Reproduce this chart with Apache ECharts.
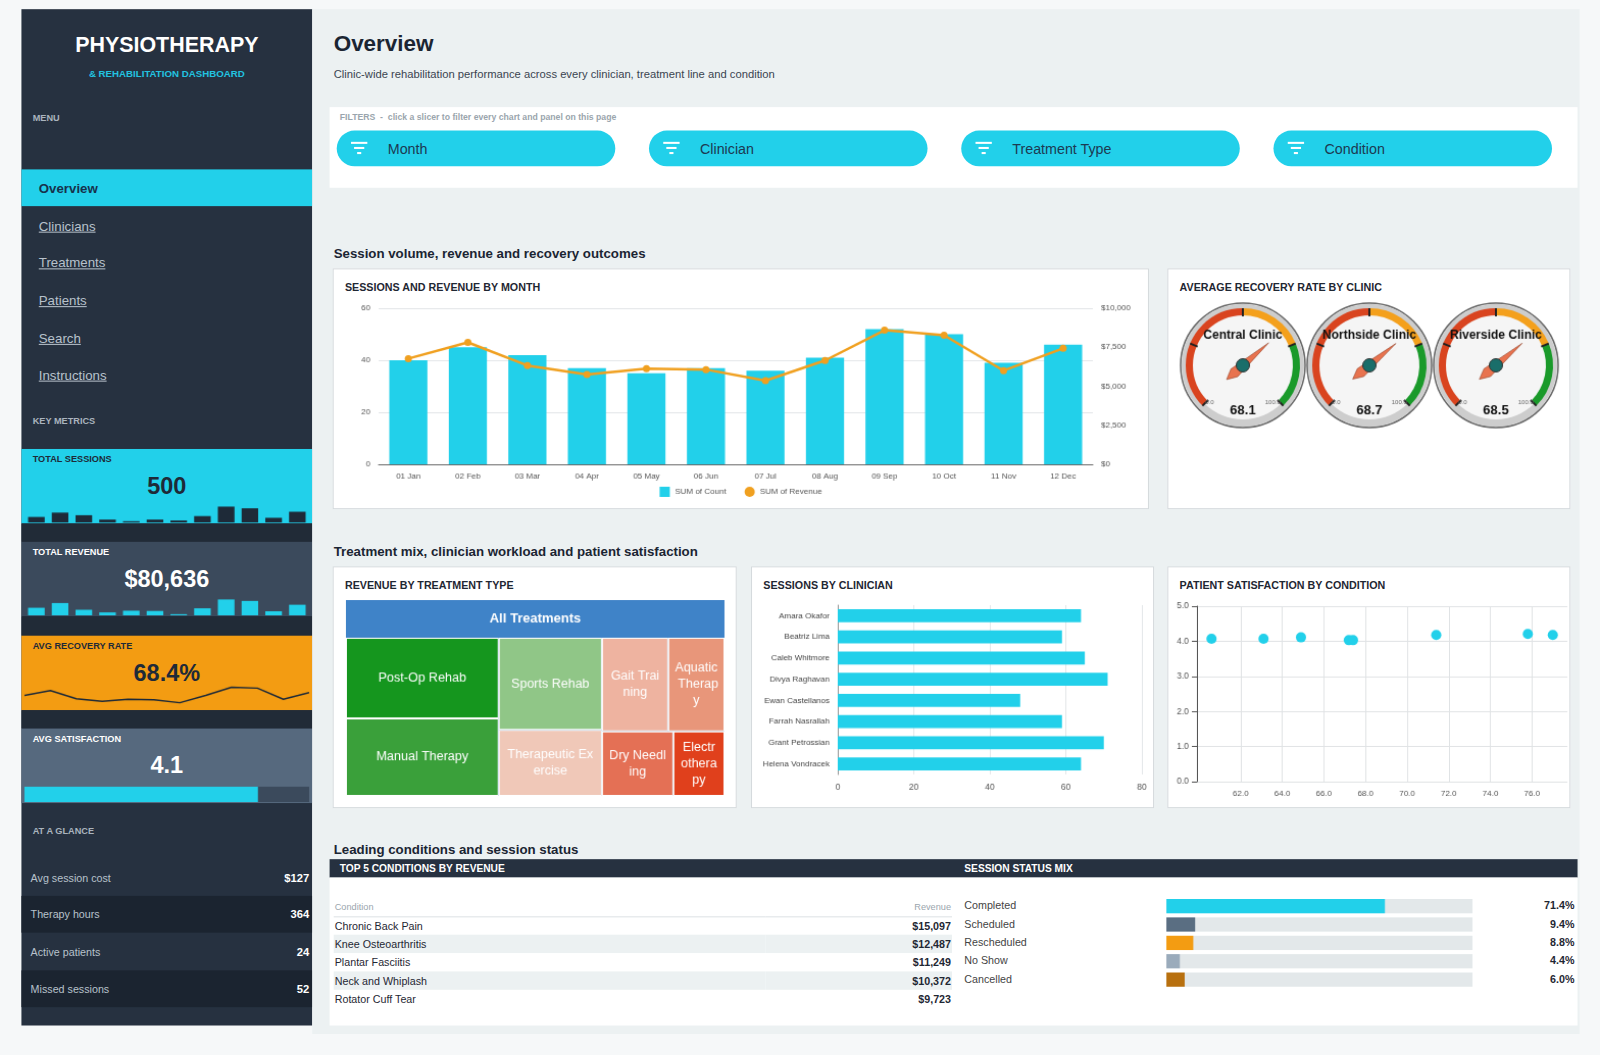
<!DOCTYPE html>
<html lang="en">
<head>
<meta charset="UTF-8">
<title>Physiotherapy Dashboard</title>
<script src="https://cdn.jsdelivr.net/npm/echarts@6/dist/echarts.min.js"></script>
<style>
    * { box-sizing: border-box; margin: 0; padding: 0; }
    body { background: #f6f8f9; font-family: 'Liberation Sans', Arial, sans-serif; overflow: hidden; }
    #page { position: relative; width: 1568px; height: 1034px; transform: scale(1.0204); transform-origin: 0 0; }
    .abs { position: absolute; }
    #side { left: 21px; top: 9px; width: 285px; height: 996px; background: #263140; }
    #main { left: 306px; top: 9px; width: 1242px; height: 1016px; background: #ecf1f2; }
    .cap { font-size: 9px; font-weight: bold; color: #aab4be; }
    .nav { left: 17px; font-size: 13px; color: #b8c2cc; text-decoration: underline; }
    .kpi { left: 0; width: 285px; height: 73px; }
    .kpi .lbl { position: absolute; left: 11px; top: 5px; font-size: 9px; font-weight: bold; }
    .kpi .val { position: absolute; left: 0; width: 285px; top: 23px; text-align: center; font-size: 23px; font-weight: bold; }
    .kpi .spark { position: absolute; left: 3px; width: 279px; }
    .glance { left: 0; width: 285px; height: 36px; font-size: 10.5px; color: #b8c2cc; }
    .glance span { position: absolute; top: 12px; }
    .glance b { position: absolute; right: 3px; top: 12px; color: #fff; font-size: 11px; }
    .card { background: #fff; border: 1px solid #d5dadd; }
    .card .t { position: absolute; left: 11px; top: 11px; font-size: 10.5px; font-weight: bold; color: #1f2733; }
    .sec { font-size: 13px; font-weight: bold; color: #1b2533; }
    .pill { top: 128px; width: 273px; height: 35px; border-radius: 18px; background: #22d0ea; }
    .pill .ic { position: absolute; left: 14px; top: 11px; }
    .pill .ic i { display: block; height: 2px; background: #fff; margin: 0 auto 3px; }
    .pill span { position: absolute; left: 50px; top: 10px; font-size: 14px; color: #1d3a52; }
    table { border-collapse: collapse; width: 606px; font-size: 10.5px; color: #1f2733; }
    td { height: 18px; padding: 0 1px; }
    td.r { text-align: right; font-weight: bold; }
    tr.alt td { background: #ecf1f2; }
    .st { left: 945px; font-size: 10.5px; color: #444; }
    .pct { left: 1480px; width: 63px; text-align: right; font-size: 10.5px; font-weight: bold; color: #1f2733; }
</style>
</head>
<body>
<div id="page">
    <div id="side" class="abs">
        <div class="abs" style="left:0;width:285px;top:23px;text-align:center;color:#fff;font-size:21px;font-weight:bold;">PHYSIOTHERAPY</div>
        <div class="abs" style="left:0;width:285px;top:57px;text-align:center;color:#22c3e0;font-size:9.5px;font-weight:bold;">&amp; REHABILITATION DASHBOARD</div>
        <div class="abs cap" style="left:11px;top:102px;">MENU</div>
        <div class="abs" style="left:0;top:157px;width:285px;height:36px;background:#22d0ea;"></div>
        <div class="abs" style="left:17px;top:168px;font-size:13px;font-weight:bold;color:#17324c;">Overview</div>
        <div class="abs nav" style="top:205px;">Clinicians</div>
        <div class="abs nav" style="top:241px;">Treatments</div>
        <div class="abs nav" style="top:278px;">Patients</div>
        <div class="abs nav" style="top:315px;">Search</div>
        <div class="abs nav" style="top:351px;">Instructions</div>
        <div class="abs cap" style="left:11px;top:399px;">KEY METRICS</div>

        <div class="abs kpi" style="top:431px;background:#22d0ea;color:#1e2a38;">
            <div class="lbl">TOTAL SESSIONS</div><div class="val">500</div>
            <div id="sparkSessions" class="spark" style="top:53px;height:19px;"></div>
        </div>
        <div class="abs" style="left:0;top:504px;width:285px;height:18px;background:#212b37;"></div>
        <div class="abs kpi" style="top:522px;background:#3b4a5c;color:#fff;">
            <div class="lbl">TOTAL REVENUE</div><div class="val">$80,636</div>
            <div id="sparkRevenue" class="spark" style="top:53px;height:19px;"></div>
        </div>
        <div class="abs" style="left:0;top:595px;width:285px;height:19px;background:#212b37;"></div>
        <div class="abs kpi" style="top:614px;background:#f39c12;color:#1e2a38;">
            <div class="lbl">AVG RECOVERY RATE</div><div class="val">68.4%</div>
            <div id="sparkRecovery" class="spark" style="top:45px;height:27px;"></div>
        </div>
        <div class="abs" style="left:0;top:687px;width:285px;height:18px;background:#212b37;"></div>
        <div class="abs kpi" style="top:705px;background:#56697e;color:#fff;">
            <div class="lbl">AVG SATISFACTION</div><div class="val">4.1</div>
            <div id="sparkSatisfaction" class="spark" style="top:57px;height:15px;"></div>
        </div>

        <div class="abs cap" style="left:11px;top:800px;">AT A GLANCE</div>
        <div class="abs glance" style="top:833px;"><span style="left:9px">Avg session cost</span><b>$127</b></div>
        <div class="abs glance" style="top:869px;background:#1b2430;"><span style="left:9px">Therapy hours</span><b>364</b></div>
        <div class="abs glance" style="top:906px;"><span style="left:9px">Active patients</span><b>24</b></div>
        <div class="abs glance" style="top:942px;background:#1b2430;"><span style="left:9px">Missed sessions</span><b>52</b></div>
    </div>

    <div id="main" class="abs"></div>
    <div class="abs" style="left:327px;top:30px;font-size:22px;font-weight:bold;color:#1b2533;">Overview</div>
    <div class="abs" style="left:327px;top:66px;font-size:11px;color:#3a4450;">Clinic-wide rehabilitation performance across every clinician, treatment line and condition</div>

    <div class="abs" style="left:323px;top:105px;width:1223px;height:79px;background:#fff;"></div>
    <div class="abs" style="left:333px;top:110px;font-size:8.5px;font-weight:bold;color:#9aa5ad;">FILTERS &nbsp;-&nbsp; click a slicer to filter every chart and panel on this page</div>
    <div class="abs pill" style="left:330px;"><div class="ic"><i style="width:16px"></i><i style="width:10px"></i><i style="width:4px"></i></div><span>Month</span></div>
    <div class="abs pill" style="left:636px;"><div class="ic"><i style="width:16px"></i><i style="width:10px"></i><i style="width:4px"></i></div><span>Clinician</span></div>
    <div class="abs pill" style="left:942px;"><div class="ic"><i style="width:16px"></i><i style="width:10px"></i><i style="width:4px"></i></div><span>Treatment Type</span></div>
    <div class="abs pill" style="left:1248px;"><div class="ic"><i style="width:16px"></i><i style="width:10px"></i><i style="width:4px"></i></div><span>Condition</span></div>

    <div class="abs sec" style="left:327px;top:241px;">Session volume, revenue and recovery outcomes</div>
    <div class="abs card" style="left:326px;top:263px;width:800px;height:236px;"><div class="t">SESSIONS AND REVENUE BY MONTH</div><div id="monthChart" class="abs" style="left:0;top:0;width:798px;height:234px;"></div></div>
    <div class="abs card" style="left:1144px;top:263px;width:395px;height:236px;"><div class="t">AVERAGE RECOVERY RATE BY CLINIC</div><div id="gaugeChart" class="abs" style="left:0;top:0;width:393px;height:234px;"></div></div>

    <div class="abs sec" style="left:327px;top:533px;">Treatment mix, clinician workload and patient satisfaction</div>
    <div class="abs card" style="left:326px;top:555px;width:396px;height:237px;"><div class="t">REVENUE BY TREATMENT TYPE</div><div id="treeChart" class="abs" style="left:0;top:0;width:394px;height:235px;"></div></div>
    <div class="abs card" style="left:736px;top:555px;width:395px;height:237px;"><div class="t">SESSIONS BY CLINICIAN</div><div id="clinChart" class="abs" style="left:0;top:0;width:393px;height:235px;"></div></div>
    <div class="abs card" style="left:1144px;top:555px;width:395px;height:237px;"><div class="t">PATIENT SATISFACTION BY CONDITION</div><div id="scatChart" class="abs" style="left:0;top:0;width:393px;height:235px;"></div></div>

    <div class="abs sec" style="left:327px;top:825px;">Leading conditions and session status</div>
    <div class="abs" style="left:323px;top:842px;width:1223px;height:18px;background:#263140;"></div>
    <div class="abs" style="left:333px;top:846px;font-size:10px;font-weight:bold;color:#fff;">TOP 5 CONDITIONS BY REVENUE</div>
    <div class="abs" style="left:945px;top:846px;font-size:10px;font-weight:bold;color:#fff;">SESSION STATUS MIX</div>
    <div class="abs" style="left:323px;top:860px;width:1223px;height:145px;background:#fff;"></div>
    <div id="condTable" class="abs" style="left:327px;top:880px;"></div>
    <div id="statusLabels"></div>
    <div id="statusChart" class="abs" style="left:1138px;top:876px;width:310px;height:95px;"></div>
</div>

<script>
    const months = ['01 Jan', '02 Feb', '03 Mar', '04 Apr', '05 May', '06 Jun', '07 Jul', '08 Aug', '09 Sep', '10 Oct', '11 Nov', '12 Dec'];
    const sessionCounts = [40, 45, 42, 37, 35, 37, 36, 41, 52, 50, 39, 46];
    const monthRevenue = [6770, 7810, 6330, 5750, 6130, 6070, 5360, 6650, 8590, 8270, 6000, 7430];
    const monthRecovery = [68.0, 69.0, 67.3, 66.8, 67.2, 67.1, 66.5, 68.0, 69.7, 69.5, 67.2, 68.6];
    const avgSatisfaction = 4.1;

    const clinics = ['Central Clinic', 'Northside Clinic', 'Riverside Clinic'];
    const clinicRecovery = [68.1, 68.7, 68.5];

    const treatments = ['Post-Op Rehab', 'Manual Therapy', 'Sports Rehab', 'Therapeutic Exercise', 'Gait Training', 'Aquatic Therapy', 'Dry Needling', 'Electrotherapy'];
    const treatmentRevenue = [16100, 15480, 12410, 8930, 8100, 6880, 6030, 4320];
    const treatmentColors = ['#15961e', '#3aa03a', '#90c687', '#f0c8b8', '#eeb3a0', '#e8967a', '#e47055', '#e0401c'];

    const clinicians = ['Amara Okafor', 'Beatriz Lima', 'Caleb Whitmore', 'Divya Raghavan', 'Ewan Castellanos', 'Farrah Nasrallah', 'Grant Petrossian', 'Helena Vondracek'];
    const clinicianSessions = [64, 59, 65, 71, 48, 59, 70, 64];

    const recoveryRate = [60.6, 63.1, 64.9, 67.2, 67.4, 71.4, 75.8, 77.0];
    const satisfaction = [4.07, 4.07, 4.11, 4.03, 4.03, 4.18, 4.21, 4.18];
    const scatterTicks = [62, 64, 66, 68, 70, 72, 74, 76];

    const topConditions = ['Chronic Back Pain', 'Knee Osteoarthritis', 'Plantar Fasciitis', 'Neck and Whiplash', 'Rotator Cuff Tear'];
    const conditionRevenue = [15097, 12487, 11249, 10372, 9723];

    const statuses = ['Completed', 'Scheduled', 'Rescheduled', 'No Show', 'Cancelled'];
    const statusShare = [71.4, 9.4, 8.8, 4.4, 6.0];
    const statusColors = ['#22d0ea', '#5a6e82', '#f39c12', '#9aabbb', '#b8700f'];

    const FONT = 'Liberation Sans';
    const CYAN = '#22d0ea';
    const money = v => '$' + v.toLocaleString('en-US');

    // sidebar sparklines
    function sparkBars(id, data, color, min) {
        echarts.init(document.getElementById(id)).setOption({
            animation: false,
            grid: { left: 0, right: 0, top: 0, bottom: 0 },
            xAxis: { type: 'category', data: months, show: false },
            yAxis: { type: 'value', min: min, max: Math.max(...data) + (Math.max(...data) - min) * 0.22, show: false },
            series: [{ type: 'bar', data: data, barWidth: '70%', itemStyle: { color: color } }]
        });
    }
    sparkBars('sparkSessions', sessionCounts, '#1e2a38', 33.6);
    sparkBars('sparkRevenue', monthRevenue, CYAN, 5110);

    echarts.init(document.getElementById('sparkRecovery')).setOption({
        animation: false,
        grid: { left: 0, right: 0, top: 4, bottom: 4 },
        xAxis: { type: 'category', data: months, show: false, boundaryGap: false },
        yAxis: { type: 'value', min: 66, max: 70, show: false },
        series: [{ type: 'line', data: monthRecovery, symbol: 'none', lineStyle: { color: '#1e2a38', width: 1.5 } }]
    });

    echarts.init(document.getElementById('sparkSatisfaction')).setOption({
        animation: false,
        grid: { left: 0, right: 0, top: 0, bottom: 0 },
        xAxis: { type: 'value', min: 0, max: 5, show: false },
        yAxis: { type: 'category', data: ['sat'], show: false },
        series: [{ type: 'bar', data: [avgSatisfaction], barWidth: '100%', itemStyle: { color: CYAN },
            showBackground: true, backgroundStyle: { color: '#3b4a5c' } }]
    });

    // sessions and revenue by month
    echarts.init(document.getElementById('monthChart')).setOption({
        animation: false,
        textStyle: { fontFamily: FONT },
        grid: { left: 44, right: 54, top: 38, bottom: 43 },
        legend: { bottom: 6, itemWidth: 10, itemHeight: 10, itemGap: 18, textStyle: { fontSize: 8, color: '#555' },
            data: [{ name: 'SUM of Count', icon: 'rect' }, { name: 'SUM of Revenue', icon: 'circle' }] },
        xAxis: { type: 'category', data: months, axisTick: { show: false },
            axisLine: { lineStyle: { color: '#666' } }, axisLabel: { fontSize: 8, color: '#555' } },
        yAxis: [
            { type: 'value', min: 0, max: 60, interval: 20, axisLabel: { fontSize: 8, color: '#555' },
                splitLine: { lineStyle: { color: '#e3e6e8' } } },
            { type: 'value', min: 0, max: 10000, interval: 2500, axisLabel: { fontSize: 8, color: '#555', formatter: money },
                splitLine: { show: false } }
        ],
        series: [
            { name: 'SUM of Count', type: 'bar', data: sessionCounts, barWidth: '64%', itemStyle: { color: CYAN } },
            { name: 'SUM of Revenue', type: 'line', yAxisIndex: 1, data: monthRevenue, symbol: 'circle', symbolSize: 7,
                itemStyle: { color: '#f0a020' }, lineStyle: { color: '#f0a020', width: 2.5 } }
        ]
    });

    // gauges
    const gaugeSeries = [];
    clinics.forEach((name, i) => {
        const center = [73 + i * 124, 94];
        gaugeSeries.push({ type: 'pie', silent: true, z: 1, center: center, radius: [0, 61], label: { show: false },
            data: [{ value: 1, itemStyle: { color: '#f5f5f5', borderColor: '#666', borderWidth: 1.5 } }] });
        gaugeSeries.push({ type: 'pie', silent: true, z: 1, center: center, radius: [53, 60], label: { show: false },
            data: [{ value: 1, itemStyle: { color: '#cdcdcd' } }] });
        gaugeSeries.push({
            type: 'gauge', z: 5, center: center, radius: 56, startAngle: 225, endAngle: -45, min: 0, max: 100, splitNumber: 4,
            axisLine: { lineStyle: { width: 7, color: [[0.5, '#d9441f'], [0.75, '#f4a01c'], [1, '#1a9a2a']] } },
            axisTick: { show: false },
            splitLine: { length: 8, distance: -7, lineStyle: { color: '#222', width: 2 } },
            axisLabel: { distance: 3, fontSize: 6, color: '#666', formatter: v => v === 0 ? '0.0' : v === 100 ? '100.0' : '' },
            pointer: { length: '80%', width: 5, offsetCenter: [0, '20%'], itemStyle: { color: '#e8734f', borderColor: '#8a3a20', borderWidth: 0.5 } },
            anchor: { show: true, showAbove: true, size: 13, itemStyle: { color: '#1a6e6a', borderColor: '#333', borderWidth: 1 } },
            title: { offsetCenter: [0, '-52%'], fontSize: 12, fontWeight: 'bold', color: '#111', fontFamily: FONT },
            detail: { offsetCenter: [0, '80%'], fontSize: 13, fontWeight: 'bold', color: '#111', fontFamily: FONT, formatter: v => v.toFixed(1) },
            data: [{ name: name, value: clinicRecovery[i] }]
        });
    });
    echarts.init(document.getElementById('gaugeChart')).setOption({ animation: false, series: gaugeSeries });

    // treemap
    const leafLabel = { show: true, position: 'inside', align: 'center', verticalAlign: 'middle', color: '#fff', fontSize: 12.5,
        overflow: 'breakAll', lineHeight: 16, fontFamily: FONT };
    echarts.init(document.getElementById('treeChart')).setOption({
        animation: false,
        textStyle: { fontFamily: FONT },
        series: [{
            type: 'treemap', left: 12, right: 11, top: 32, bottom: 11, roam: false, nodeClick: false,
            breadcrumb: { show: false },
            levels: [
                { itemStyle: { borderWidth: 0, gapWidth: 0 } },
                { itemStyle: { color: '#3f83c8', borderColor: '#3f83c8', borderWidth: 0, gapWidth: 0 },
                    upperLabel: { show: true, height: 37, position: 'inside', color: '#fff', fontSize: 13, fontWeight: 'bold', fontFamily: FONT } },
                { itemStyle: { borderWidth: 1, borderColor: '#fff' }, label: leafLabel }
            ],
            data: [{ name: 'All Treatments', children: treatments.map((t, i) => ({
                name: t, value: treatmentRevenue[i], itemStyle: { color: treatmentColors[i] } })) }]
        }]
    });

    // sessions by clinician
    echarts.init(document.getElementById('clinChart')).setOption({
        animation: false,
        textStyle: { fontFamily: FONT },
        grid: { left: 84, right: 11, top: 37, bottom: 32 },
        xAxis: { type: 'value', min: 0, max: 80, interval: 20, axisLabel: { fontSize: 8.5, color: '#555' },
            splitLine: { lineStyle: { color: '#e3e6e8' } }, axisLine: { show: false } },
        yAxis: { type: 'category', data: clinicians, inverse: true, axisTick: { show: false },
            axisLine: { lineStyle: { color: '#999' } }, axisLabel: { fontSize: 8, color: '#444' } },
        series: [{ type: 'bar', data: clinicianSessions, barWidth: '62%', itemStyle: { color: CYAN } }]
    });

    // satisfaction scatter
    echarts.init(document.getElementById('scatChart')).setOption({
        animation: false,
        textStyle: { fontFamily: FONT },
        grid: { left: 28, right: 2, top: 38, bottom: 25 },
        xAxis: { type: 'value', min: 59.9, max: 77.7,
            axisLabel: { customValues: scatterTicks, formatter: v => v.toFixed(1), fontSize: 8, color: '#555' },
            axisTick: { customValues: scatterTicks, show: false },
            splitLine: { show: true, lineStyle: { color: '#e0e3e5' } }, axisLine: { show: false } },
        yAxis: { type: 'value', min: 0, max: 5, interval: 1, axisLabel: { formatter: v => v.toFixed(1), fontSize: 8.5, color: '#555' },
            splitLine: { lineStyle: { color: '#e0e3e5' } }, axisLine: { show: true, lineStyle: { color: '#555' } } },
        series: [{ type: 'scatter', symbolSize: 10, itemStyle: { color: CYAN, opacity: 1 },
            data: recoveryRate.map((x, i) => [x, satisfaction[i]]) }]
    });

    // top conditions table
    let html = '<table><tr><td style="color:#9aa5ad;font-size:9px;border-bottom:1px solid #dde2e5;">Condition</td>' +
        '<td style="color:#9aa5ad;font-size:9px;text-align:right;border-bottom:1px solid #dde2e5;">Revenue</td></tr>';
    topConditions.forEach((c, i) => {
        html += '<tr class="' + (i % 2 ? 'alt' : '') + '"><td>' + c + '</td><td class="r">' + money(conditionRevenue[i]) + '</td></tr>';
    });
    document.getElementById('condTable').innerHTML = html + '</table>';

    // session status mix
    let lab = '';
    statuses.forEach((s, i) => {
        lab += '<div class="abs st" style="top:' + (881 + i * 18) + 'px">' + s + '</div>';
        lab += '<div class="abs pct" style="top:' + (881 + i * 18) + 'px">' + statusShare[i].toFixed(1) + '%</div>';
    });
    document.getElementById('statusLabels').innerHTML = lab;
    echarts.init(document.getElementById('statusChart')).setOption({
        animation: false,
        grid: { left: 5, right: 5, top: 3, bottom: 2 },
        xAxis: { type: 'value', min: 0, max: 100, show: false },
        yAxis: { type: 'category', data: statuses, inverse: true, show: false },
        series: [{ type: 'bar', barWidth: 14, data: statusShare.map((v, i) => ({ value: v, itemStyle: { color: statusColors[i] } })),
            showBackground: true, backgroundStyle: { color: '#e3e8ea' } }]
    });
</script>
</body>
</html>
